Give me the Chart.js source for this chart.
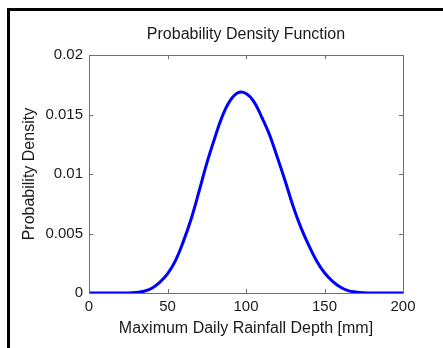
<!DOCTYPE html>
<html>
<head>
<meta charset="utf-8">
<script src="https://cdn.jsdelivr.net/npm/chart.js@4/dist/chart.umd.min.js"></script>
<style>
  html, body { margin: 0; padding: 0; background: #fff; }
  canvas { display: block; }
</style>
</head>
<body>
<canvas id="chart" width="443" height="348"></canvas>
<script>
// rainfall depth [mm] and estimated density
const depth = [0, 5, 10, 15, 20, 25, 30, 35, 40, 45, 50, 55, 60, 65, 70, 75, 80, 85, 90, 95,
    100, 105, 110, 115, 120, 125, 130, 135, 140, 145, 150, 155, 160, 165, 170, 175, 180, 185, 190, 195, 200];
const density = [0, 0, 0, 0, 0, 0, 0.00005, 0.00015, 0.0004, 0.0009, 0.0016, 0.0027, 0.0043, 0.0062, 0.0085, 0.0109, 0.0130, 0.0149, 0.0162, 0.01685,
    0.01678, 0.0161, 0.0148, 0.0133, 0.0114, 0.0094, 0.0073, 0.0055, 0.0040, 0.0027, 0.0017, 0.0010, 0.0005, 0.0002, 0.00008, 0.00002, 0, 0, 0, 0, 0];
const xTicks = [0, 50, 100, 150, 200];
const yTicks = [0, 0.005, 0.01, 0.015, 0.02];
const yTickLabels = ["0", "0.005", "0.01", "0.015", "0.02"];

const textColor = "#1a1a1a";
const boxColor = "#707070";

// matlab style box with inner ticks + outer black frame
const boxPlugin = {
    id: "box",
    beforeDraw(chart) {
        const c = chart.ctx;
        c.save();
        c.fillStyle = "#fff";
        c.fillRect(0, 0, chart.width, chart.height);
        c.restore();
    },
    afterDraw(chart) {
        const c = chart.ctx;
        const a = chart.chartArea;
        const xs = chart.scales.x, ys = chart.scales.y;
        c.save();
        c.strokeStyle = boxColor;
        c.lineWidth = 1;
        c.beginPath();
        c.rect(Math.round(a.left) + 0.5, Math.round(a.top) + 0.5, Math.round(a.right - a.left), Math.round(a.bottom - a.top));
        xTicks.forEach(function (v) {
            const px = Math.round(xs.getPixelForValue(v)) + 0.5;
            c.moveTo(px, a.bottom); c.lineTo(px, a.bottom - 4);
            c.moveTo(px, a.top); c.lineTo(px, a.top + 4);
        });
        yTicks.forEach(function (v) {
            const py = Math.round(ys.getPixelForValue(v)) + 0.5;
            c.moveTo(a.left, py); c.lineTo(a.left + 4, py);
            c.moveTo(a.right, py); c.lineTo(a.right - 4, py);
        });
        c.stroke();
        c.fillStyle = "#000";
        c.fillRect(7, 8, chart.width - 7, 3);
        c.fillRect(7, 8, 3, chart.height - 8);
        c.restore();
    }
};

new Chart(document.getElementById("chart"), {
    type: "line",
    data: {
        datasets: [{
            data: depth.map(function (d, i) { return {x: d, y: density[i]}; }),
            borderColor: "#0000ff",
            borderWidth: 3,
            pointRadius: 0,
            tension: 0.4,
            fill: false
        }]
    },
    options: {
        responsive: false,
        animation: false,
        layout: {padding: {left: 0, right: 40, top: 0, bottom: 0}},
        plugins: {
            legend: {display: false},
            tooltip: {enabled: false},
            title: {
                display: true,
                fullSize: false,
                text: "Probability Density Function",
                color: textColor,
                font: {family: "Liberation Sans, Arial, sans-serif", size: 16, weight: "normal"},
                padding: {top: 25, bottom: 11}
            }
        },
        scales: {
            x: {
                type: "linear",
                min: 0,
                max: 200,
                grid: {display: false},
                border: {display: false},
                afterBuildTicks: function (s) { s.ticks = xTicks.map(function (v) { return {value: v}; }); },
                afterFit: function (s) { s.height = 55; },
                ticks: {
                    color: textColor,
                    padding: -3,
                    maxRotation: 0,
                    font: {family: "Liberation Sans, Arial, sans-serif", size: 15}
                },
                title: {
                    display: true,
                    text: "Maximum Daily Rainfall Depth [mm]",
                    color: textColor,
                    padding: {top: 0, bottom: 10},
                    font: {family: "Liberation Sans, Arial, sans-serif", size: 16}
                }
            },
            y: {
                min: 0,
                max: 0.02,
                grid: {display: false},
                border: {display: false},
                afterBuildTicks: function (s) { s.ticks = yTicks.map(function (v) { return {value: v}; }); },
                afterFit: function (s) { s.width = 89; },
                ticks: {
                    color: textColor,
                    padding: -2,
                    font: {family: "Liberation Sans, Arial, sans-serif", size: 15},
                    callback: function (v) {
                        const i = yTicks.indexOf(v);
                        return i >= 0 ? yTickLabels[i] : "";
                    }
                },
                title: {
                    display: true,
                    text: "Probability Density",
                    color: textColor,
                    padding: {top: 20, bottom: 0},
                    font: {family: "Liberation Sans, Arial, sans-serif", size: 16}
                }
            }
        }
    },
    plugins: [boxPlugin]
});
</script>
</body>
</html>
